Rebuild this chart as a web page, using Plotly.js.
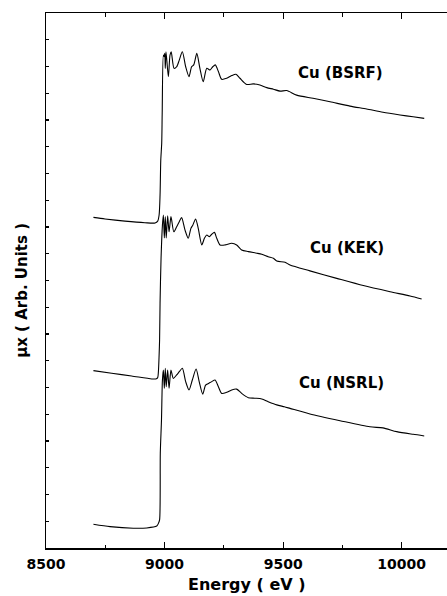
<!DOCTYPE html>
<html>
<head>
<meta charset="utf-8">
<script src="https://cdn.plot.ly/plotly-3.0.1.min.js"></script>
<style>html,body{margin:0;padding:0;background:#fff;overflow:hidden;width:447px;height:596px;}#chart{width:447px;height:596px;overflow:hidden;}</style>
</head>
<body>
<div id="chart"></div>
<script>
// Energy (eV) and absorption (arb. units, stacked)
const bsrfE = [8700,8749,8833,8917,8960,8971,8977,8981,8984,8988,8990,8995,8998,9001,9003,9006,9016,9023,9028,9040,9051,9062,9075,9089,9103,9114,9123,9136,9149,9163,9178,9192,9203,9214,9227,9241,9262,9283,9301,9318,9346,9374,9402,9431,9459,9487,9515,9557,9626,9698,9782,9852,9921,9993,10048,10095];
const bsrfMu = [12.36,12.30,12.22,12.16,12.15,12.22,12.45,13.20,14.50,15.14,16.26,18.43,18.37,18.49,17.93,18.55,17.62,18.43,18.55,17.93,17.99,18.24,18.55,17.99,17.62,17.99,18.06,18.49,17.93,17.43,17.93,17.87,17.99,18.06,17.81,17.52,17.56,17.66,17.71,17.56,17.33,17.35,17.31,17.21,17.15,17.08,17.10,16.93,16.81,16.68,16.52,16.41,16.29,16.19,16.12,16.06];

const kekE = [8700,8777,8861,8946,8963,8971,8974,8977,8979,8981,8985,8991,8995,8999,9003,9007,9013,9019,9027,9039,9051,9062,9072,9086,9100,9111,9119,9131,9142,9157,9168,9178,9189,9199,9210,9220,9234,9255,9283,9304,9325,9353,9389,9410,9437,9459,9473,9508,9529,9613,9726,9838,9951,10035,10084];
const kekMu = [6.63,6.53,6.43,6.32,6.32,6.37,6.59,7.21,7.78,9.16,10.77,12.07,12.45,11.59,12.39,11.59,12.42,11.82,12.39,11.82,12.01,12.20,12.35,11.89,11.58,11.95,12.07,12.30,11.95,11.33,11.58,11.70,11.64,11.73,11.80,11.58,11.33,11.33,11.39,11.33,11.14,11.08,11.02,10.98,10.89,10.83,10.73,10.68,10.58,10.36,10.08,9.81,9.58,9.42,9.31];

const nsrlE = [8700,8770,8868,8925,8967,8974,8979,8982,8987,8991,8995,8999,9003,9007,9013,9019,9027,9037,9051,9062,9075,9089,9103,9117,9133,9146,9161,9173,9187,9199,9213,9227,9241,9262,9283,9304,9325,9353,9381,9410,9437,9473,9505,9529,9613,9740,9866,9921,9979,10048,10095];
const nsrlMu = [0.89,0.80,0.74,0.75,0.82,0.92,1.05,3.55,4.79,6.28,6.65,5.97,6.72,6.03,6.65,5.97,6.65,6.34,6.47,6.59,6.72,6.22,5.91,6.28,6.69,6.22,5.75,6.09,6.16,6.22,6.28,6.03,5.78,5.82,5.91,5.94,5.78,5.62,5.60,5.57,5.47,5.35,5.28,5.22,5.01,4.76,4.53,4.49,4.35,4.25,4.19];

const seriesNames = ["Cu (BSRF)", "Cu (KEK)", "Cu (NSRL)"];
const xTickVals = [8500, 9000, 9500, 10000];
const xTickText = ["8500", "9000", "9500", "10000"];
const xMinorVals = [8750, 9250, 9750];

const lineStyle = {color: "#000", width: 1.1, shape: "spline", smoothing: 0.7};
const traces = [
  {x: bsrfE, y: bsrfMu, name: seriesNames[0]},
  {x: kekE, y: kekMu, name: seriesNames[1]},
  {x: nsrlE, y: nsrlMu, name: seriesNames[2]}
].map(t => Object.assign(t, {type: "scatter", mode: "lines", line: lineStyle, hoverinfo: "skip"}));
// empty trace so the overlaid minor-tick axis is drawn
traces.push({x: [], y: [], xaxis: "x2", type: "scatter", mode: "lines", hoverinfo: "skip"});

const XRANGE = [8500, 10191];

const labelFont = {family: "DejaVu Sans", size: 15, color: "#000", weight: "bold"};
const layout = {
  width: 447, height: 596,
  margin: {l: 46, r: 0, t: 13, b: 48},
  paper_bgcolor: "#fff", plot_bgcolor: "#fff",
  showlegend: false,
  xaxis: {
    range: XRANGE, showgrid: false, zeroline: false,
    showline: true, linecolor: "#000", linewidth: 1.5, mirror: "ticks",
    ticks: "inside", ticklen: 6, tickwidth: 1.2, tickcolor: "#000",
    tickvals: xTickVals, ticktext: xTickText, ticklabelstandoff: 3,
    tickfont: {family: "DejaVu Sans", size: 14, color: "#000", weight: "bold"}
  },
  xaxis2: {
    range: XRANGE, overlaying: "x", side: "bottom", anchor: "y",
    showgrid: false, zeroline: false, showline: false, mirror: "ticks",
    ticks: "inside", ticklen: 3.5, tickwidth: 1.2, tickcolor: "#000",
    tickvals: xMinorVals, showticklabels: false
  },
  yaxis: {
    range: [0, 20], showgrid: false, zeroline: false,
    showline: true, linecolor: "#000", linewidth: 1.5, mirror: false,
    ticks: "inside", ticklen: 3, tickwidth: 1.2, tickcolor: "#000",
    dtick: 1, tick0: 0, showticklabels: false
  },
  annotations: [
    {text: seriesNames[0], x: 9740, y: 17.76, xref: "x", yref: "y", showarrow: false, font: labelFont},
    {text: seriesNames[1], x: 9769, y: 11.20, xref: "x", yref: "y", showarrow: false, font: labelFont},
    {text: seriesNames[2], x: 9744, y: 6.17, xref: "x", yref: "y", showarrow: false, font: labelFont},
    {text: "Energy ( eV )", x: 0.5, y: -0.0897, xref: "paper", yref: "paper", xanchor: "center", yanchor: "bottom", showarrow: false,
     font: {family: "DejaVu Sans", size: 16, color: "#000", weight: "bold"}},
    {text: "μx ( Arb. Units )", x: -0.0606, y: 0.482, xref: "paper", yref: "paper", xanchor: "center", yanchor: "middle", textangle: -90, showarrow: false,
     font: {family: "DejaVu Sans", size: 15, color: "#000", weight: "bold"}}
  ]
};

Plotly.newPlot("chart", traces, layout, {displayModeBar: false, staticPlot: true});
</script>
</body>
</html>
